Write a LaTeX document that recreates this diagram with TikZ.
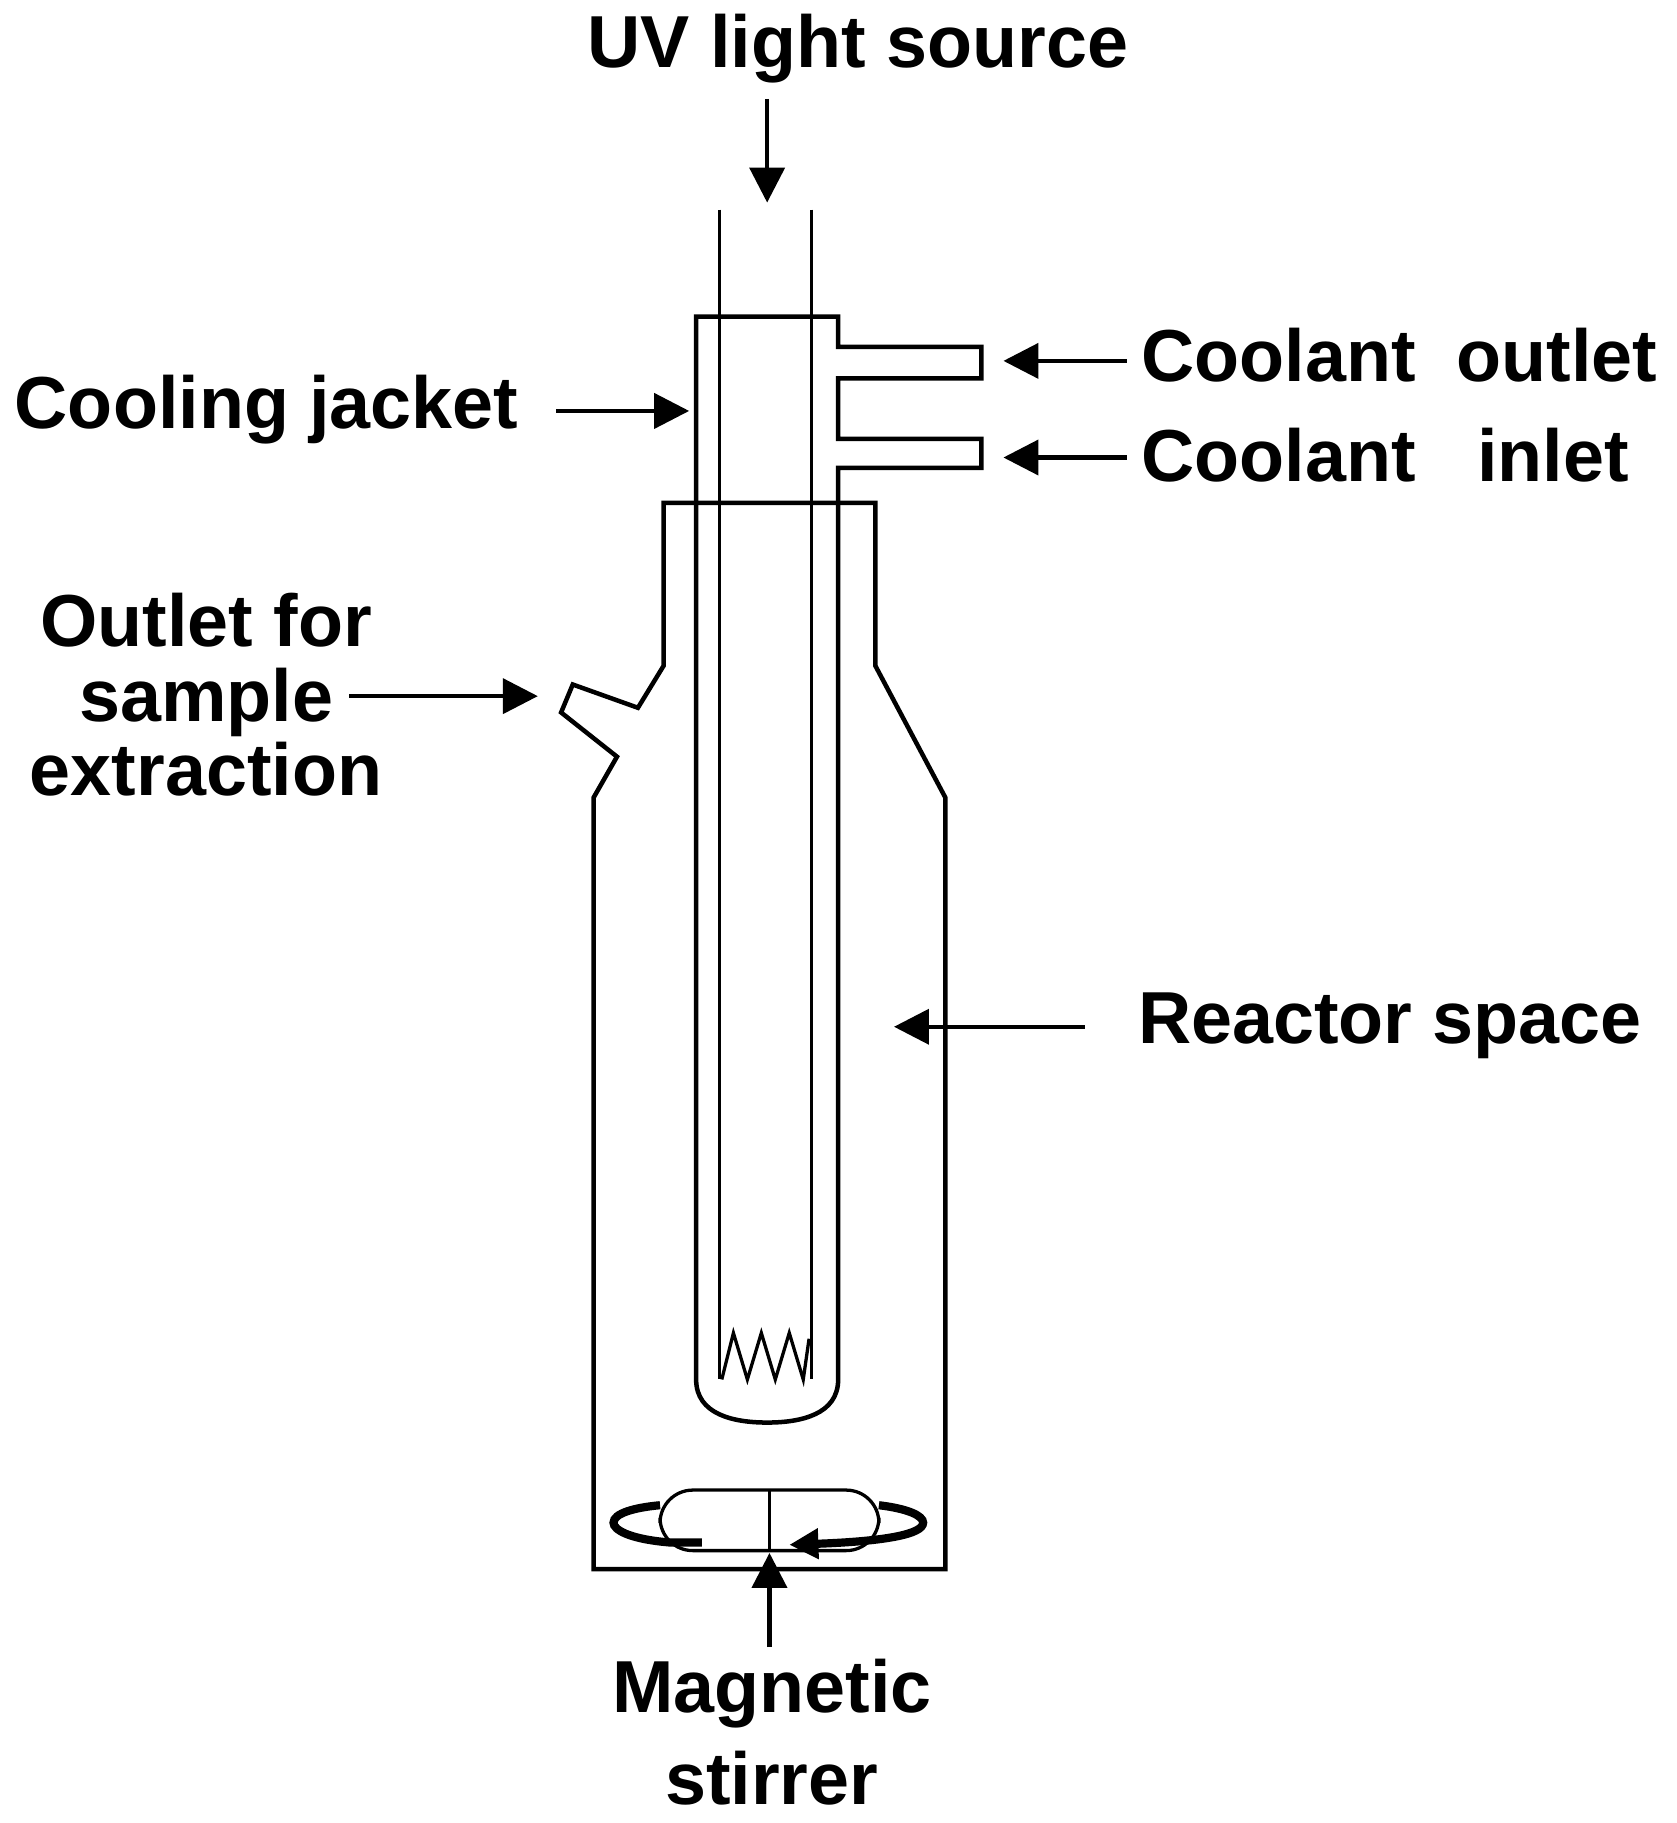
\documentclass[tikz,border=0pt]{standalone}
\usepackage{fontspec}
\setmainfont{Liberation Sans}
\usetikzlibrary{arrows.meta}
\begin{document}
\begin{tikzpicture}[x=0.01cm,y=-0.01cm,
  lbl/.style={font=\fontsize{18}{18}\selectfont\bfseries,inner sep=0pt},
  arr/.style={line width=1pt,-{Triangle[length=0.3cm,width=0.3cm]}},
  glass/.style={line width=1.1pt,line join=miter},
  thin/.style={line width=0.8pt}]
\useasboundingbox (0,0) rectangle (1440,1566);
% lamp
\draw[thin] (618,180) -- (618,1185);
\draw[thin] (697,180) -- (697,1185);
\draw[thin] (620,1185) -- (630,1145) -- (642,1185) -- (654,1145) -- (666,1185) -- (678,1145) -- (690,1185) -- (695,1150);
% cooling jacket
\draw[glass] (720,298) -- (720,272) -- (598,272) -- (598,1185) .. controls (598,1215) and (630,1222) .. (659,1222) .. controls (688,1222) and (720,1215) .. (720,1185) -- (720,402) -- (843,402) -- (843,377) -- (720,377) -- (720,325) -- (843,325) -- (843,298) -- cycle;
% reactor
\draw[glass] (570,432) -- (752,432) -- (752,572) -- (812,685) -- (812,1348) -- (510,1348) -- (510,685) -- (530,650) -- (482,612) -- (492,588) -- (548,608) -- (570,572) -- cycle;
% stirrer
\draw[thin,rounded corners=8] (567,1280) rectangle (755,1332);
\draw[thin] (661,1280) -- (661,1332);
\draw[line width=2pt] (603,1325) -- (575,1325) .. controls (540,1322) and (527,1314) .. (527,1308) .. controls (527,1300) and (545,1295) .. (567,1293);
\draw[line width=2pt,-{Triangle[length=0.25cm,width=0.25cm]}] (755,1293) .. controls (780,1296) and (793,1302) .. (793,1308) .. controls (793,1318) and (760,1324) .. (678,1327);
% labels
\node[lbl] (uv) at (737,42) {UV light source};
\coordinate (uvt) at (659,85); \coordinate (uvh) at (659,174);
\draw[arr] (uvt) -- (uvh);
\node[lbl,anchor=west] (cj) at (12,352) {Cooling jacket};
\coordinate (cja) at (478,353); \coordinate (cjb) at (592,353);
\draw[arr] (cja) -- (cjb);
\node[lbl,anchor=west] (co) at (980,305) {Coolant\ \ outlet};
\coordinate (coa) at (968,310); \coordinate (cob) at (862,310);
\draw[arr] (coa) -- (cob);
\node[lbl,anchor=west] (ci) at (980,391) {Coolant\ \ \ inlet};
\coordinate (cia) at (968,393); \coordinate (cib) at (862,393);
\draw[arr] (cia) -- (cib);
\node[lbl,align=center,font=\fontsize{18}{18.2}\selectfont\bfseries] (os) at (177,597) {Outlet for\\sample\\extraction};
\coordinate (osa) at (300,598); \coordinate (osb) at (462,598);
\draw[arr] (osa) -- (osb);
\node[lbl,anchor=west] (rs) at (977,881) {Reactor space};
\coordinate (rsa) at (932,882); \coordinate (rsb) at (768,882);
\draw[arr] (rsa) -- (rsb);
\node[lbl,align=center,font=\fontsize{18}{22.5}\selectfont\bfseries] (ms) at (663,1488) {Magnetic\\stirrer};
\coordinate (msa) at (661,1415); \coordinate (msb) at (661,1334);
\draw[arr] (msa) -- (msb);
\end{tikzpicture}
\end{document}
